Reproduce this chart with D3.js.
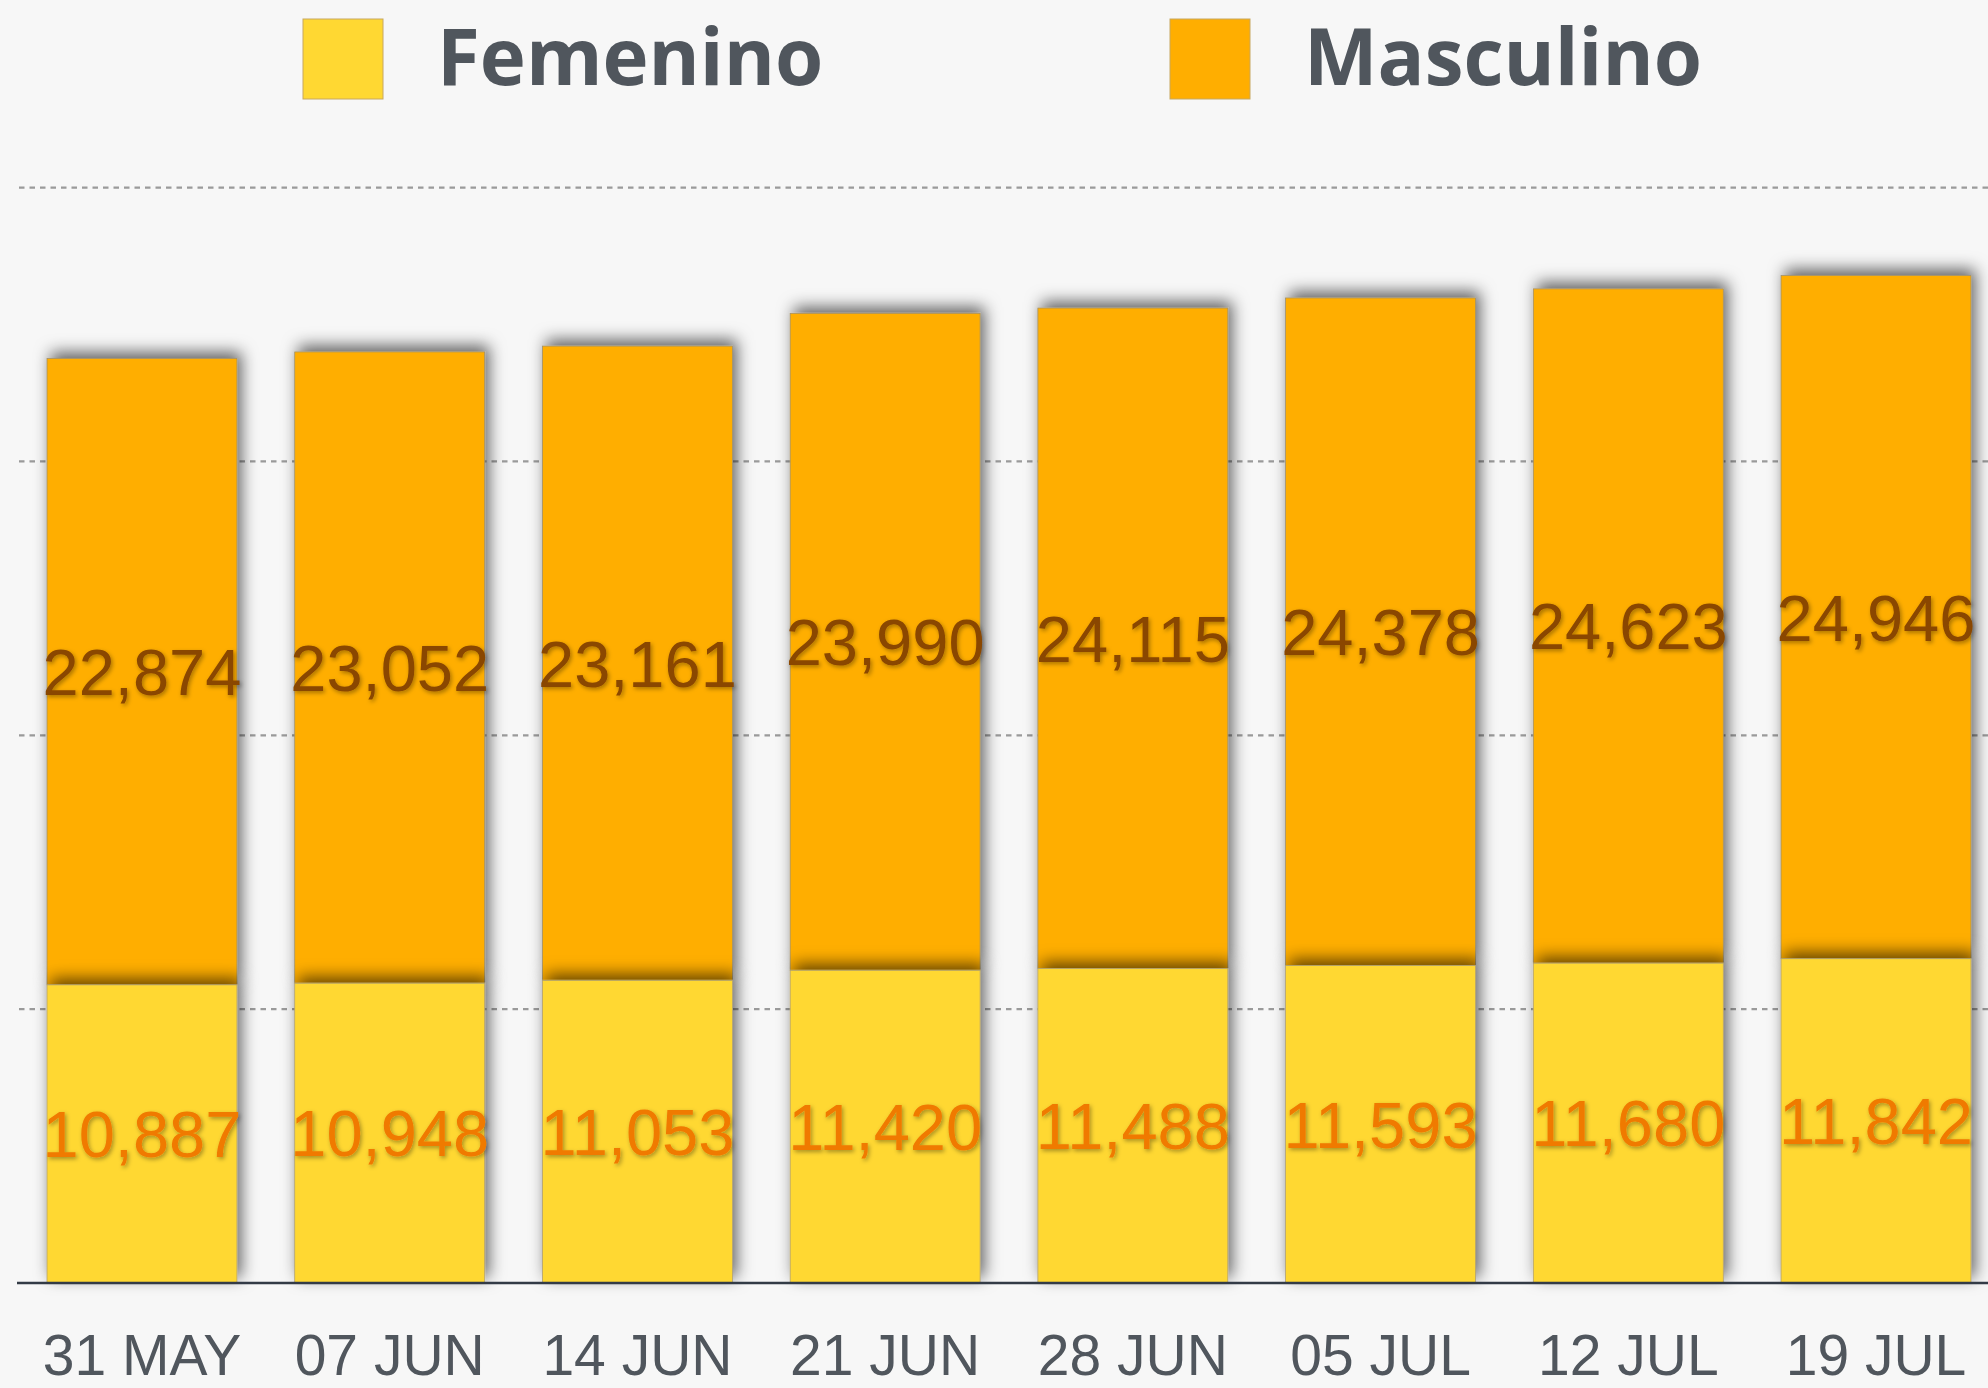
<!DOCTYPE html>
<html>
<head>
<meta charset="utf-8">
<script src="https://cdn.jsdelivr.net/npm/d3@7"></script>
<style>
  html, body { margin: 0; padding: 0; background: #f7f7f7; }
  svg { display: block; }
</style>
</head>
<body>
<script>
const dates = ["31 MAY","07 JUN","14 JUN","21 JUN","28 JUN","05 JUL","12 JUL","19 JUL"];
const femenino = [10887,10948,11053,11420,11488,11593,11680,11842];
const masculino = [22874,23052,23161,23990,24115,24378,24623,24946];
const seriesNames = ["Femenino","Masculino"];
const seriesColors = ["#ffd832","#ffae00"];
const labelColors = ["#f07a00","#8a4700"];
const yTicks = [10000,20000,30000,40000];

const W = 1988, H = 1388;
const svg = d3.select("body").append("svg").attr("width", W).attr("height", H);
svg.append("rect").attr("width", W).attr("height", H).attr("fill", "#f7f7f7");

const defs = svg.append("defs");
const fb = defs.append("filter").attr("id","barShadow")
  .attr("x","-30%").attr("y","-30%").attr("width","160%").attr("height","160%");
fb.append("feDropShadow").attr("dx",4).attr("dy",-6).attr("stdDeviation",8)
  .attr("flood-color","#000").attr("flood-opacity",0.6);
const ft = defs.append("filter").attr("id","textShadow")
  .attr("x","-10%").attr("y","-20%").attr("width","120%").attr("height","140%");
ft.append("feDropShadow").attr("dx",1.5).attr("dy",2).attr("stdDeviation",2)
  .attr("flood-color","#000").attr("flood-opacity",0.35);

const x = d3.scaleBand().domain(dates).range([18, 2000]).paddingInner(0.233).paddingOuter(0.117);
const y = d3.scaleLinear().domain([0, 40000]).range([1283, 187.6]);

// gridlines
svg.append("g").selectAll("line").data(yTicks).join("line")
  .attr("x1", 19).attr("x2", W)
  .attr("y1", d => y(d)).attr("y2", d => y(d))
  .attr("stroke", "#9a9a9a").attr("stroke-width", 2.2)
  .attr("stroke-dasharray", "5.5,5");

const data = dates.map((d,i) => ({date:d, f:femenino[i], m:masculino[i]}));

// masculino segments
svg.append("g").selectAll("rect").data(data).join("rect")
  .attr("x", d => x(d.date)).attr("width", x.bandwidth())
  .attr("y", d => y(d.f + d.m)).attr("height", d => y(d.f) - y(d.f + d.m))
  .attr("fill", seriesColors[1]).attr("stroke", "#a0906a").attr("stroke-width", 0.8)
  .attr("filter", "url(#barShadow)");
// femenino segments
svg.append("g").selectAll("rect").data(data).join("rect")
  .attr("x", d => x(d.date)).attr("width", x.bandwidth())
  .attr("y", d => y(d.f)).attr("height", d => y(0) - y(d.f))
  .attr("fill", seriesColors[0]).attr("stroke", "#b0a070").attr("stroke-width", 0.8)
  .attr("filter", "url(#barShadow)");

// baseline
svg.append("line").attr("x1", 17).attr("x2", W).attr("y1", y(0)).attr("y2", y(0))
  .attr("stroke", "#333b46").attr("stroke-width", 2.5);

const fmt = d3.format(",");
// value labels
const lab = svg.append("g").attr("font-family", "'Liberation Sans', Arial, sans-serif")
  .attr("font-size", 65).attr("text-anchor", "middle").attr("filter", "url(#textShadow)");
lab.selectAll("text.m").data(data).join("text").attr("class","m")
  .attr("x", d => x(d.date) + x.bandwidth()/2)
  .attr("y", d => (y(d.f) + y(d.f + d.m))/2).attr("dy", "0.36em")
  .attr("fill", labelColors[1]).text(d => fmt(d.m));
lab.selectAll("text.f").data(data).join("text").attr("class","f")
  .attr("x", d => x(d.date) + x.bandwidth()/2)
  .attr("y", d => (y(0) + y(d.f))/2).attr("dy", "0.36em")
  .attr("fill", labelColors[0]).text(d => fmt(d.f));

// x axis
const ax = svg.append("g").attr("transform", `translate(0,${y(0)})`)
  .call(d3.axisBottom(x).tickSize(0));
ax.select(".domain").remove();
ax.selectAll("text").attr("y", 92).attr("dy", 0)
  .attr("font-family", "'Liberation Sans', Arial, sans-serif")
  .attr("font-size", 57).attr("fill", "#50565d");

// legend
const legX = [303, 1170];
const leg = svg.append("g");
seriesNames.forEach((n, i) => {
  leg.append("rect").attr("x", legX[i]).attr("y", 19).attr("width", 80).attr("height", 80)
    .attr("fill", seriesColors[i]).attr("stroke", "#c8a860").attr("stroke-width", 1);
  leg.append("text").attr("x", legX[i] + 134).attr("y", 85)
    .attr("font-family", "'Open Sans', sans-serif").attr("font-weight", 700)
    .attr("font-size", 78).attr("fill", "#50565d").text(n);
});
</script>
</body>
</html>
